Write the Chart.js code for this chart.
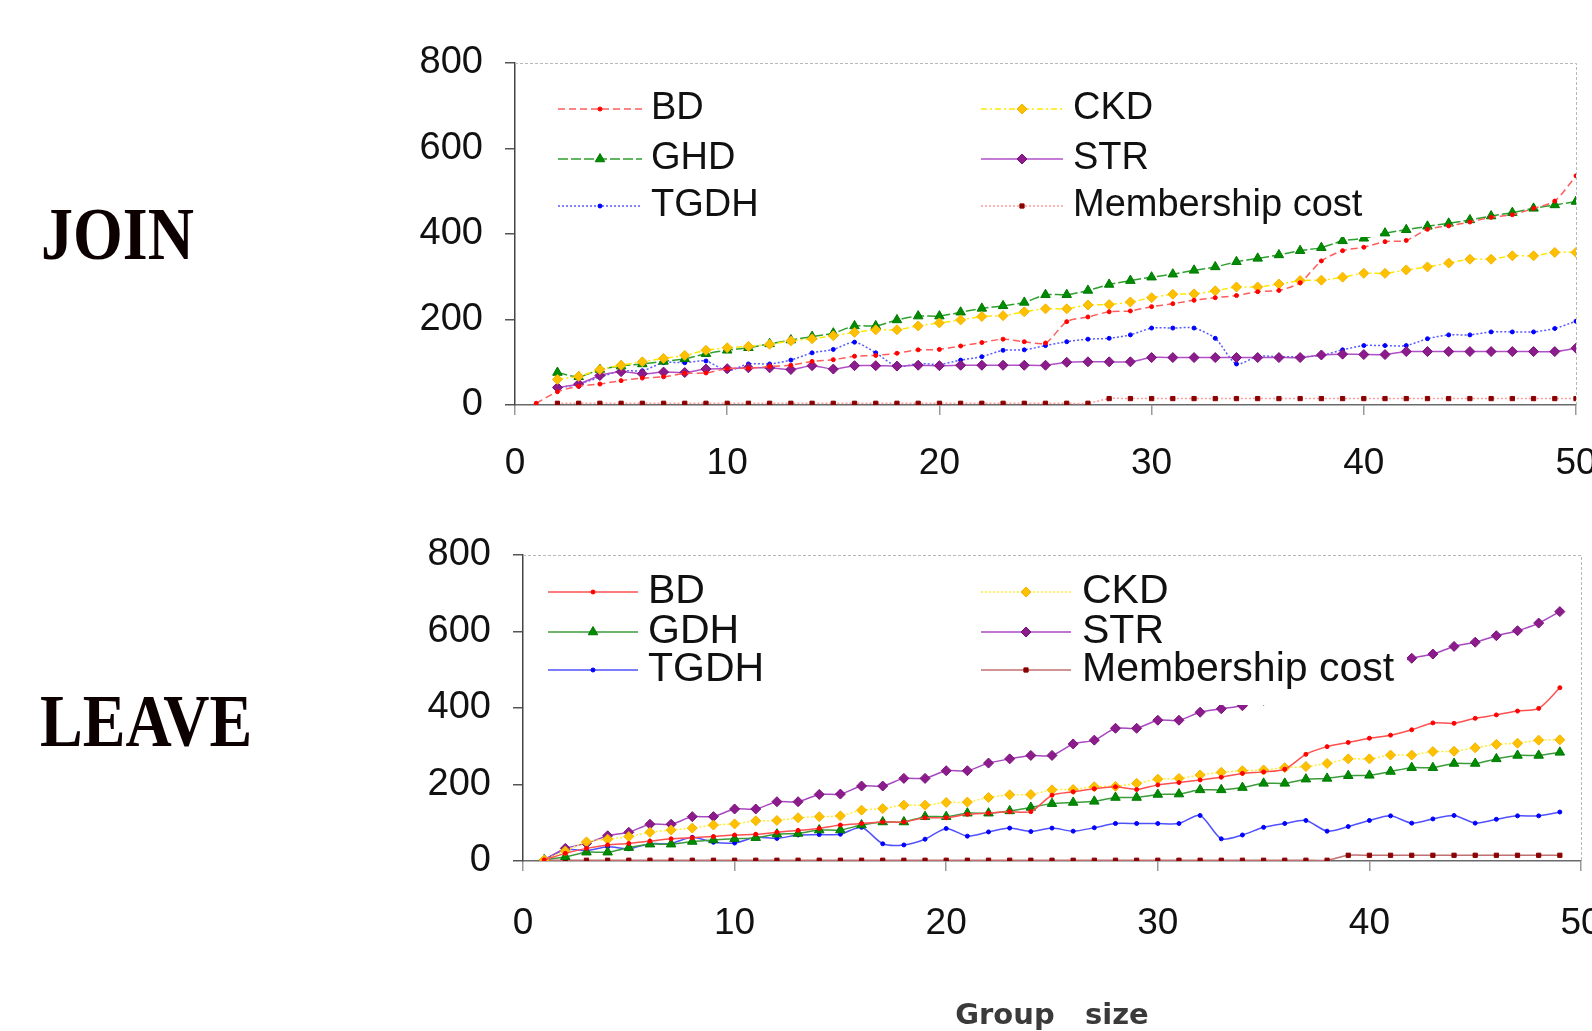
<!DOCTYPE html>
<html>
<head>
<meta charset="utf-8">
<script src="https://cdn.jsdelivr.net/npm/chart.js@4.4.1/dist/chart.umd.min.js"></script>
<style>
html,body{margin:0;padding:0;background:#fff;width:1592px;height:1031px;overflow:hidden;}
.wrap{position:absolute;left:0;width:1592px;}
#w1{top:0;height:500px;}
#w2{top:500px;height:531px;}
.side{position:absolute;font-family:'Liberation Serif','Times New Roman',serif;font-weight:bold;font-size:64px;line-height:64px;color:#0d0000;transform:scaleY(1.14);transform-origin:0 54px;white-space:nowrap;}
#xt{position:absolute;left:1052px;top:999px;transform:translateX(-50%);font-family:'DejaVu Sans',sans-serif;font-weight:bold;font-size:29px;line-height:30px;color:#3a3a3a;white-space:nowrap;}
</style>
</head>
<body>
<div class="side" style="left:41px;top:206px;">JOIN</div>
<div class="side" style="left:40px;top:693px;">LEAVE</div>
<div class="wrap" id="w1"><canvas id="c1" width="1592" height="500"></canvas></div>
<div class="wrap" id="w2"><canvas id="c2" width="1592" height="531"></canvas></div>
<div id="xt">Group&nbsp;&nbsp;&nbsp;size</div>
<script>
// ---------- DATA ----------
const groupSizes = [1,2,3,4,5,6,7,8,9,10,11,12,13,14,15,16,17,18,19,20,21,22,23,24,25,26,27,28,29,30,31,32,33,34,35,36,37,38,39,40,41,42,43,44,45,46,47,48,49,50];
const xTicks = [0,10,20,30,40,50];
const yTicks = [0,200,400,600,800];

// JOIN (x = 1..50), null = no value
const joinBD   = [4,31,44,49,57,63,66,74,75,85,86,90,93,102,106,114,116,121,129,130,138,146,154,148,145,195,206,218,220,230,237,245,251,256,265,268,286,337,361,369,382,385,411,419,428,439,445,460,477,536];
const joinCKD  = [null,60,67,83,93,101,109,116,128,134,137,142,150,155,162,170,176,176,185,192,199,207,209,218,225,225,234,235,241,251,259,260,267,276,276,283,291,292,299,308,308,316,323,332,341,341,349,349,357,357];
const joinGHD  = [null,76,66,83,91,96,102,108,120,128,134,143,152,160,168,185,185,199,208,208,217,226,232,240,258,258,268,282,291,299,306,315,323,335,343,351,361,368,384,390,402,410,418,425,433,442,450,460,468,476];
const joinSTR  = [null,41,49,69,78,73,77,76,84,85,87,87,83,92,84,92,92,91,93,92,93,93,93,93,93,100,101,101,101,111,111,111,111,111,111,111,111,117,119,118,118,125,125,125,125,125,125,125,125,133];
const joinTGDH = [null,39,49,65,80,80,99,99,103,80,96,96,105,122,130,147,122,90,97,95,105,113,128,129,139,148,154,156,164,180,180,180,156,96,114,113,113,116,129,139,139,139,155,164,164,171,171,171,179,196];
const joinMem  = [null,4,4,4,4,4,4,4,4,4,4,4,4,4,4,4,4,4,4,4,4,4,4,4,4,4,4,15,15,15,15,15,15,15,15,15,15,15,15,15,15,15,15,15,15,15,15,15,15,15];

// LEAVE (x = 1..49)
const leaveBD   = [3,20,33,42,46,52,58,61,64,68,70,75,80,85,94,98,102,102,113,113,122,125,129,129,172,181,189,194,187,199,205,212,219,229,233,240,279,299,310,321,329,343,361,360,373,382,392,399,453];
const leaveCKD  = [3,26,50,57,64,75,81,86,94,97,105,106,113,116,118,133,137,146,146,153,154,166,173,174,186,187,194,195,203,214,216,225,232,236,238,244,247,255,267,267,277,277,286,287,296,305,308,316,317];
const leaveGDH  = [3,11,23,23,35,44,44,51,55,58,61,70,72,81,81,94,102,102,116,116,125,125,131,140,150,153,156,166,166,174,175,186,186,192,203,203,214,216,223,224,234,244,244,255,255,267,276,276,284];
const leaveSTR  = [3,33,46,66,75,96,96,116,116,136,136,155,155,174,175,196,196,216,216,236,236,256,267,276,276,306,316,347,347,368,368,389,398,406,420,435,450,465,480,495,512,530,541,561,572,589,602,622,652];
const leaveTGDH = [3,30,27,37,32,45,46,62,49,47,62,59,68,69,70,88,45,42,57,85,65,76,86,77,86,78,87,98,98,98,98,119,58,68,88,98,106,78,90,106,118,99,110,119,99,109,118,118,128];
const leaveMem  = [2,2,2,2,2,2,2,2,2,2,2,2,2,2,2,2,2,2,2,2,2,2,2,2,2,2,2,2,2,2,2,2,2,2,2,2,2,2,15,15,15,15,15,15,15,15,15,15,15];

// ---------- helpers ----------
function pts(vals){
  const out = [];
  vals.forEach((v,i)=>{ if(v!==null) out.push({x:groupSizes[i], y:v}); });
  return out;
}
function ds(label, vals, st){
  return Object.assign({
    label, data: pts(vals), borderWidth:1.5, tension:0.25, fill:false,
    pointBorderWidth:1, pointHoverRadius:0
  }, st);
}

const boxLegend = {
  id:'boxLegend',
  afterDatasetsDraw(chart){
    const L = chart.options.plugins.boxLegend;
    if(!L) return;
    const ctx = chart.ctx;
    ctx.save();
    ctx.fillStyle = '#fff';
    ctx.fillRect(L.box[0], L.box[1], L.box[2]-L.box[0], L.box[3]-L.box[1]);
    ctx.font = L.font;
    ctx.textBaseline = 'middle';
    ctx.textAlign = 'left';
    L.items.forEach(it=>{
      const d = chart.data.datasets[it.ds];
      ctx.strokeStyle = d.borderColor;
      ctx.lineWidth = d.borderWidth;
      ctx.setLineDash(d.borderDash || []);
      ctx.beginPath(); ctx.moveTo(it.x0, it.y); ctx.lineTo(it.x1, it.y); ctx.stroke();
      ctx.setLineDash([]);
      ctx.fillStyle = d.pointBackgroundColor;
      ctx.strokeStyle = d.pointBorderColor;
      ctx.lineWidth = 1;
      Chart.helpers.drawPoint(ctx, {pointStyle:d.pointStyle, radius:d.pointRadius, borderWidth:1, rotation:0}, (it.x0+it.x1)/2, it.y);
      ctx.fillStyle = '#111';
      ctx.fillText(d.label, it.tx, it.y);
    });
    ctx.restore();
  }
};

const frame = {
  id:'frame',
  beforeDatasetsDraw(chart){
    const a = chart.chartArea, ctx = chart.ctx;
    ctx.save();
    ctx.strokeStyle = '#b8b8b8';
    ctx.lineWidth = 1;
    ctx.setLineDash([3,2]);
    ctx.beginPath();
    ctx.moveTo(a.left, a.top+0.5); ctx.lineTo(a.right+0.5, a.top+0.5); ctx.lineTo(a.right+0.5, a.bottom);
    ctx.stroke();
    ctx.restore();
  }
};

function makeChart(id, datasets, cfg){
  return new Chart(document.getElementById(id), {
    type:'line',
    data:{datasets},
    plugins:[frame, boxLegend],
    options:{
      responsive:false, animation:false, devicePixelRatio:1,
      layout:{padding:{top:cfg.padTop, right:cfg.padRight, left:0, bottom:0}},
      plugins:{legend:{display:false}, tooltip:{enabled:false}, boxLegend:cfg.legend},
      scales:{
        x:{type:'linear', min:0, max:50,
          afterBuildTicks(s){ s.ticks = xTicks.map(v=>({value:v})); },
          ticks:{font:{family:'Liberation Sans', size:37}, color:'#111', padding:cfg.xPad, maxRotation:0, autoSkip:false},
          grid:{drawOnChartArea:false, drawTicks:true, tickLength:10, color:'#9a9a9a', lineWidth:1.5},
          border:{display:true, color:'#6a6a6a', width:1.5},
          afterFit(s){ s.height = cfg.xHeight; s.paddingLeft = 0; s.paddingRight = 0; }
        },
        y:{min:0, max:800,
          afterBuildTicks(s){ s.ticks = yTicks.map(v=>({value:v})); },
          ticks:{font:{family:'Liberation Sans', size:38}, color:'#111', padding:22},
          grid:{drawOnChartArea:false, drawTicks:true, tickLength:10, color:'#555', lineWidth:1.5},
          border:{display:true, color:'#444', width:1.5},
          afterFit(s){ s.width = cfg.yWidth; s.paddingTop = 0; s.paddingBottom = 0; }
        }
      }
    }
  });
}

// ---------- JOIN ----------
makeChart('c1', [
  ds('BD', joinBD, {borderColor:'#ff5c5c', borderDash:[7,4], pointStyle:'circle', pointRadius:2, pointBackgroundColor:'#ff0000', pointBorderColor:'#ff0000'}),
  ds('CKD', joinCKD, {borderColor:'#ffe800', borderDash:[6,3,2,3], pointStyle:'rectRot', pointRadius:5, pointBackgroundColor:'#ffc000', pointBorderColor:'#f0b400'}),
  ds('GHD', joinGHD, {borderColor:'#2f9f2f', borderDash:[10,3], pointStyle:'triangle', pointRadius:5.5, pointBackgroundColor:'#008c00', pointBorderColor:'#007800'}),
  ds('STR', joinSTR, {borderColor:'#b050c8', pointStyle:'rectRot', pointRadius:5, pointBackgroundColor:'#8c1c8c', pointBorderColor:'#7a107a'}),
  ds('TGDH', joinTGDH, {borderColor:'#5a5aff', borderDash:[2,2], pointStyle:'circle', pointRadius:2, pointBackgroundColor:'#0000ff', pointBorderColor:'#0000ff'}),
  ds('Membership cost', joinMem, {borderColor:'#ff9c9c', borderDash:[2,2], pointStyle:'rect', pointRadius:3, pointBackgroundColor:'#8b0000', pointBorderColor:'#8b0000'})
], {
  padTop:63, padRight:16, xHeight:95, yWidth:515, xPad:27,
  legend:{ box:[540,82,1380,237], font:'38px "Liberation Sans", Arial, sans-serif', items:[
    {ds:0, x0:558, x1:642, tx:651, y:109},
    {ds:1, x0:981, x1:1063, tx:1073, y:109},
    {ds:2, x0:558, x1:642, tx:651, y:159},
    {ds:3, x0:981, x1:1063, tx:1073, y:159},
    {ds:4, x0:558, x1:642, tx:651, y:206},
    {ds:5, x0:981, x1:1063, tx:1073, y:206}
  ]}
});

// ---------- LEAVE ----------
makeChart('c2', [
  ds('BD', leaveBD, {borderColor:'#ff5050', pointStyle:'circle', pointRadius:2, pointBackgroundColor:'#ff0000', pointBorderColor:'#ff0000'}),
  ds('CKD', leaveCKD, {borderColor:'#ffee33', borderDash:[2,2], pointStyle:'rectRot', pointRadius:5, pointBackgroundColor:'#ffc000', pointBorderColor:'#f0b400'}),
  ds('GDH', leaveGDH, {borderColor:'#3c9c3c', pointStyle:'triangle', pointRadius:5.5, pointBackgroundColor:'#008c00', pointBorderColor:'#007800'}),
  ds('STR', leaveSTR, {borderColor:'#a848c0', pointStyle:'rectRot', pointRadius:5, pointBackgroundColor:'#8c1c8c', pointBorderColor:'#7a107a'}),
  ds('TGDH', leaveTGDH, {borderColor:'#5050ff', pointStyle:'circle', pointRadius:2, pointBackgroundColor:'#0000ff', pointBorderColor:'#0000ff'}),
  ds('Membership cost', leaveMem, {borderColor:'#c07070', pointStyle:'rect', pointRadius:3, pointBackgroundColor:'#8b0000', pointBorderColor:'#8b0000'})
], {
  padTop:55, padRight:11, xHeight:170, yWidth:523, xPad:31,
  legend:{ box:[535,68,1407,205], font:'41px "Liberation Sans", Arial, sans-serif', items:[
    {ds:0, x0:548, x1:638, tx:648, y:92},
    {ds:1, x0:981, x1:1071, tx:1082, y:92},
    {ds:2, x0:548, x1:638, tx:648, y:132},
    {ds:3, x0:981, x1:1071, tx:1082, y:132},
    {ds:4, x0:548, x1:638, tx:648, y:170},
    {ds:5, x0:981, x1:1071, tx:1082, y:170}
  ]}
});
</script>
</body>
</html>
